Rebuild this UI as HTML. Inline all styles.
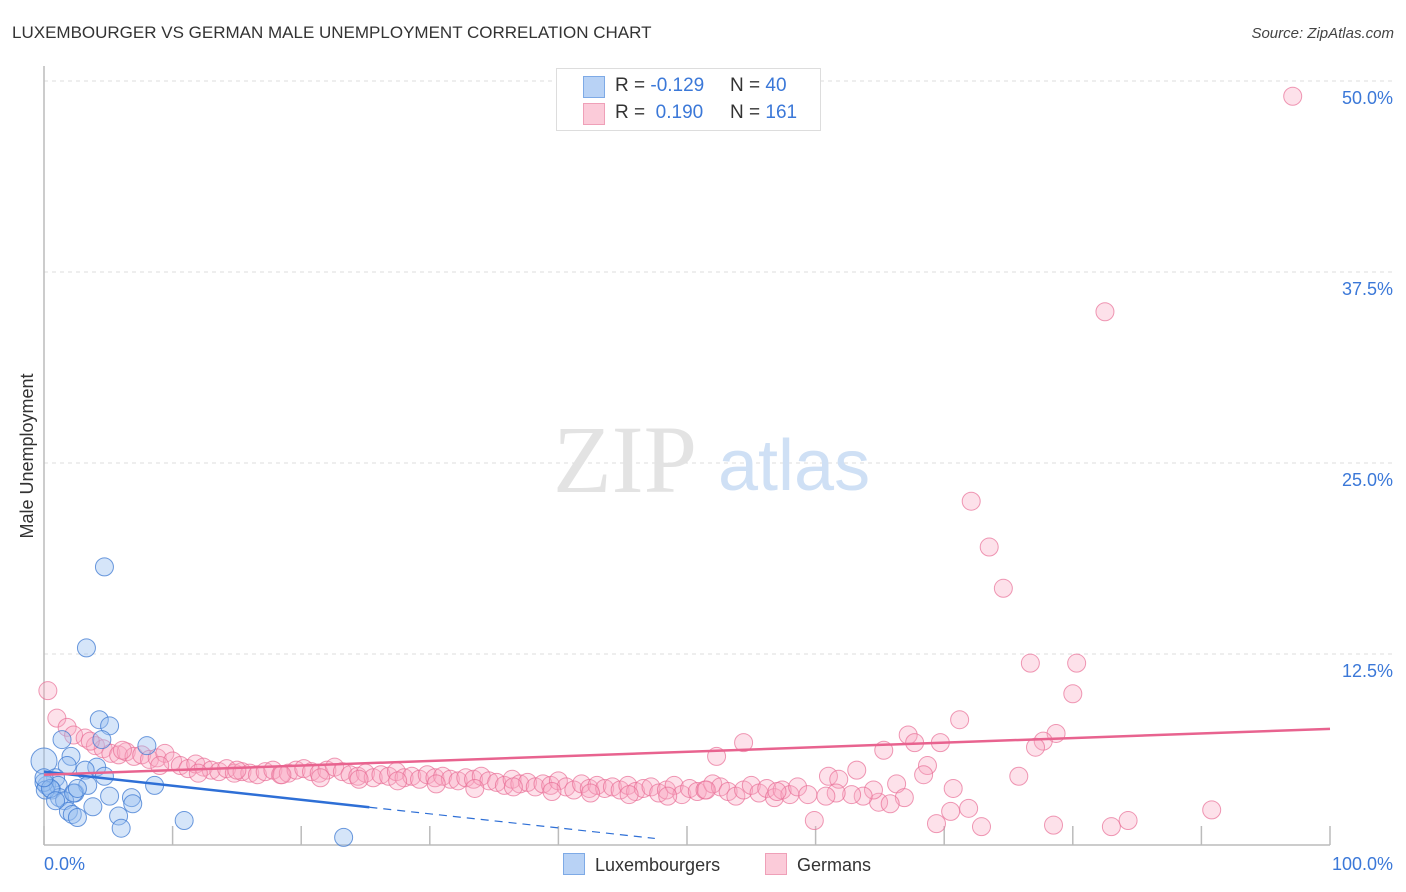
<!DOCTYPE html>
<html><head><meta charset="utf-8">
<style>
body{margin:0;background:#fff;font-family:"Liberation Sans",sans-serif;}
#wrap{position:relative;width:1406px;height:892px;overflow:hidden;}
.t{position:absolute;white-space:nowrap;}
</style></head>
<body>
<div id="wrap">
<div class="t" style="left:12px;top:23px;font-size:17px;color:#333;">LUXEMBOURGER VS GERMAN MALE UNEMPLOYMENT CORRELATION CHART</div>
<div class="t" style="right:12px;top:25px;font-size:15px;color:#444;font-style:italic;">Source: ZipAtlas.com</div>
<svg id="svg" width="1406" height="892" style="position:absolute;left:0;top:0"></svg>
</div>
<script>
const blueX=[0,4.7,3.3,4.3,5.1,1.4,4.5,8.0,2.1,4.1,3.2,1.8,0.9,0.2,0.6,1.1,2.4,4.7,3.4,8.6,1.2,1.6,2.3,5.1,6.8,6.9,3.8,1.9,2.2,2.6,5.8,6.0,10.9,23.3,0,0.1,0.5,2.6,0,0.9];
const blueY=[5.5,18.2,12.9,8.2,7.8,6.9,6.9,6.5,5.8,5.1,4.9,5.2,4.4,3.9,3.6,3.9,3.4,4.5,3.9,3.9,3.1,2.9,3.4,3.2,3.1,2.7,2.5,2.2,2.0,1.8,1.9,1.1,1.6,0.5,4.1,3.6,3.7,3.7,4.4,2.9];
const pinkX=[0.3,1.0,1.8,2.3,3.2,4.0,4.6,5.2,5.8,6.4,7.0,7.6,8.2,8.8,9.4,10.0,10.6,11.2,11.8,12.4,13.0,13.6,14.2,14.8,15.4,16.0,16.6,17.2,17.8,18.4,19.0,19.6,20.2,20.8,21.4,22.0,22.6,23.2,23.8,24.4,25.0,25.6,26.2,26.8,27.4,28.0,28.6,29.2,29.8,30.4,31.0,31.6,32.2,32.8,33.4,34.0,34.6,35.2,35.8,36.4,37.0,37.6,38.2,38.8,39.4,40.0,40.6,41.2,41.8,42.4,43.0,43.6,44.2,44.8,45.4,46.0,46.6,47.2,47.8,48.4,49.0,49.6,50.2,50.8,51.4,52.0,52.6,53.2,53.8,54.4,55.0,55.6,56.2,56.8,57.4,58.0,58.6,3.6,6.1,9.0,12.0,15.0,18.5,21.5,24.5,27.5,30.5,33.5,36.5,39.5,42.5,45.5,48.5,51.5,57.0,
97.1,82.5,72.1,73.5,74.6,76.7,80.3,80.0,71.2,67.2,69.7,67.7,78.7,77.7,77.1,65.3,54.4,52.3,68.7,68.4,75.8,61.0,63.2,70.7,66.3,66.9,64.9,65.8,64.5,63.7,62.8,61.8,59.9,69.4,70.5,71.9,72.9,78.5,83.0,84.3,90.8,61.6,59.4,60.8];
const pinkY=[10.1,8.3,7.7,7.2,7.0,6.5,6.3,6.0,5.9,6.1,5.8,5.9,5.6,5.7,6.0,5.5,5.2,5.0,5.3,5.1,4.9,4.8,5.0,4.7,4.8,4.7,4.6,4.8,4.9,4.6,4.7,4.9,5.0,4.8,4.7,4.9,5.1,4.8,4.6,4.5,4.7,4.4,4.6,4.5,4.8,4.4,4.5,4.3,4.6,4.4,4.5,4.3,4.2,4.4,4.3,4.5,4.2,4.1,3.9,4.3,4.0,4.1,3.8,4.0,3.9,4.2,3.8,3.6,4.0,3.7,3.9,3.7,3.8,3.6,3.9,3.5,3.7,3.8,3.4,3.6,3.9,3.3,3.7,3.5,3.6,4.0,3.8,3.5,3.2,3.6,3.9,3.4,3.7,3.1,3.6,3.3,3.8,6.8,6.2,5.2,4.7,4.9,4.6,4.4,4.3,4.2,4.0,3.7,3.8,3.5,3.4,3.3,3.2,3.6,3.5,
49.0,34.9,22.5,19.5,16.8,11.9,11.9,9.9,8.2,7.2,6.7,6.7,7.3,6.8,6.4,6.2,6.7,5.8,5.2,4.6,4.5,4.5,4.9,3.7,4.0,3.1,2.8,2.7,3.6,3.2,3.3,4.3,1.6,1.4,2.2,2.4,1.2,1.3,1.2,1.6,2.3,3.4,3.3,3.2];
const blueTrend=[4.8,-4.4];
const pinkTrend=[4.6,7.6];
const yTicks=[12.5,25.0,37.5,50.0];
const xTickVals=[0,10,20,30,40,50,60,70,80,90,100];

const X0=44,X1=1330,Y0=845,Y50=81;
const sx=v=>X0+(X1-X0)*v/100;
const sy=v=>Y0-(Y0-Y50)*v/50;
const NS="http://www.w3.org/2000/svg";
const svg=document.getElementById('svg');
function mk(tag,attrs,parent){const e=document.createElementNS(NS,tag);for(const k in attrs)e.setAttribute(k,attrs[k]);(parent||svg).appendChild(e);return e;}

// gridlines
yTicks.forEach(v=>{
  const g=mk('line',{x1:X0,x2:1395,y1:sy(v),y2:sy(v),stroke:'#ddd','stroke-dasharray':'4,4'});
  
  
  const t=mk('text',{x:1393,y:sy(v)+23,'text-anchor':'end','font-size':18,fill:'#3b78d8','font-family':'Liberation Sans, sans-serif'});
  t.textContent=v.toFixed(1)+'%';
  
  
});
// watermark
const wm=mk('text',{x:553,y:492,'font-size':96,fill:'#e3e3e3','font-family':'Liberation Serif, serif'});
wm.textContent='ZIP';


const wm2=mk('text',{x:718,y:490,'font-size':72,fill:'#cfe0f5','font-family':'Liberation Sans, sans-serif'});
wm2.textContent='atlas';


// axes
const ax=mk('line',{x1:X0,x2:X1,y1:Y0,y2:Y0,stroke:'#bbb','stroke-width':1.5});


const ay=mk('line',{x1:X0,x2:X0,y1:66,y2:Y0,stroke:'#bbb','stroke-width':1.5});


xTickVals.forEach(v=>{
  const tk=mk('line',{x1:sx(v),x2:sx(v),y1:826,y2:Y0,stroke:'#bbb','stroke-width':1.5});
  
  
});
// points
const gp=mk('g',{});
pinkX.forEach((x,i)=>{
  const c=mk('circle',{cx:sx(x),cy:sy(pinkY[i]),r:9,fill:'rgba(248,170,195,0.35)',stroke:'rgba(232,110,150,0.7)','stroke-width':1},gp);
  
  
});
blueX.forEach((x,i)=>{
  const c=mk('circle',{cx:sx(x),cy:sy(blueY[i]),r:i===0?13:9,fill:'rgba(150,190,240,0.4)',stroke:'rgba(60,120,210,0.75)','stroke-width':1},gp);
  
  
});
// trends
const bAt=v=>blueTrend[0]+(blueTrend[1]-blueTrend[0])*v/100;
const bl=mk('line',{x1:sx(0),y1:sy(bAt(0)),x2:sx(25.3),y2:sy(bAt(25.3)),stroke:'#2e6fd6','stroke-width':2.5});


const bd=mk('line',{x1:sx(25.3),y1:sy(bAt(25.3)),x2:sx(47.5),y2:sy(bAt(47.5)),stroke:'#2e6fd6','stroke-width':1.2,'stroke-dasharray':'8,6'});


const pl=mk('line',{x1:sx(0),y1:sy(pinkTrend[0]),x2:sx(100),y2:sy(pinkTrend[1]),stroke:'#e8638f','stroke-width':2.5});


// x labels
const xl0=mk('text',{x:44,y:870,'font-size':18,fill:'#3b78d8','font-family':'Liberation Sans, sans-serif'});
xl0.textContent='0.0%';


const xl1=mk('text',{x:1393,y:870,'text-anchor':'end','font-size':18,fill:'#3b78d8','font-family':'Liberation Sans, sans-serif'});
xl1.textContent='100.0%';


const yt=mk('text',{x:0,y:0,'font-size':18,fill:'#333','text-anchor':'middle','font-family':'Liberation Sans, sans-serif',transform:'translate(33,456) rotate(-90)'});
yt.textContent='Male Unemployment';


</script>
<div class="t" style="left:556px;top:68px;width:263px;height:61px;border:1px solid #ddd;background:#fff;font-size:19px;color:#333;">
  <div style="position:absolute;left:26px;top:7px;width:20px;height:20px;background:#b8d2f5;border:1px solid #7eaae6;"></div>
  <div class="t" style="left:58px;top:6px;">R = <span style="color:#3b78d8">-0.129</span></div>
  <div class="t" style="left:173px;top:6px;">N = <span style="color:#3b78d8">40</span></div>
  <div style="position:absolute;left:26px;top:34px;width:20px;height:20px;background:#fbcbd9;border:1px solid #efa0b8;"></div>
  <div class="t" style="left:58px;top:33px;">R = &nbsp;<span style="color:#3b78d8">0.190</span></div>
  <div class="t" style="left:173px;top:33px;">N = <span style="color:#3b78d8">161</span></div>
</div>
<div class="t" style="left:563px;top:853px;font-size:18px;color:#333;">
  <span style="display:inline-block;width:20px;height:20px;background:#b8d2f5;border:1px solid #7eaae6;vertical-align:-4px;margin-right:10px;"></span>Luxembourgers</div>
<div class="t" style="left:765px;top:853px;font-size:18px;color:#333;">
  <span style="display:inline-block;width:20px;height:20px;background:#fbcbd9;border:1px solid #efa0b8;vertical-align:-4px;margin-right:10px;"></span>Germans</div>
</body></html>
